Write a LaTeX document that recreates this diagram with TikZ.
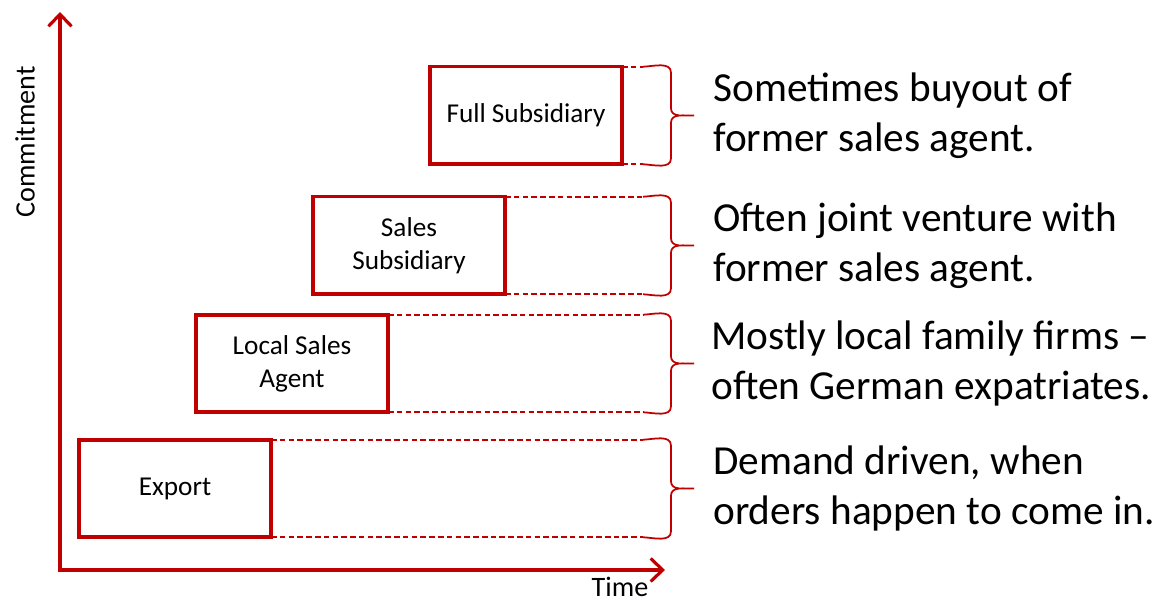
\documentclass[tikz,border=0pt]{standalone}
\usepackage{fontspec}
\setmainfont{Carlito}
\usetikzlibrary{positioning,arrows.meta}
\definecolor{darkred}{RGB}{192,0,0}

\begin{document}
\begin{tikzpicture}[stage/.style = {draw=darkred, line width=2pt, fill=white, outer sep=0pt,
                        minimum width=3.84cm, minimum height=1.95cm, align=center,
                        font=\fontsize{15.5}{18.8}\selectfont},
                    axis/.style = {draw=darkred, line width=1.8pt, {Straight Barb[length=2.4mm,width=4.6mm]}-{Straight Barb[length=2.4mm,width=4.6mm]}},
                    span/.style = {draw=darkred, line width=0.9pt, dash pattern=on 3.2pt off 1.8pt},
                    curly/.style = {draw=darkred, line width=1pt}]
    \useasboundingbox (0,0) rectangle (23.2,12.04);
    % axes
    \coordinate (ytop) at (1.2,11.8);
    \coordinate (xend) at (13.3,0.64);
    \coordinate (brx) at (13.42,0);
    \draw[axis] (ytop) |- (xend);
    \node[rotate=90, font=\fontsize{16}{19}\selectfont] (commit) at (0.5,9.2) {Commitment};
    \node[anchor=base, font=\fontsize{16}{19}\selectfont] (time) at (12.4,0.1) {Time};
    % stages
    \node[stage] (export) at (3.5,2.27) {Export};
    \node[stage, above right=0.55cm and -1.5cm of export] (local) {Local Sales\\Agent};
    \node[stage, above right=0.41cm and -1.5cm of local] (sales) {Sales\\Subsidiary};
    \node[stage, above right=0.65cm and -1.5cm of sales] (full) {Full Subsidiary};
    % dashed spans and braces
    \foreach \s in {export, local, sales, full} {
        \draw[span] (\s.north east) -- ([xshift=-0.56cm]\s.north -| brx);
        \draw[span] (\s.south east) -- ([xshift=-0.56cm]\s.south -| brx);
        \draw[curly] ([xshift=-0.56cm]\s.north -| brx) to[out=3,in=90] ([yshift=-0.12cm]\s.north -| brx)
            -- ([yshift=0.14cm]\s.east -| brx) to[out=-90,in=178] ([xshift=0.46cm]\s.east -| brx)
            to[out=182,in=90] ([yshift=-0.14cm]\s.east -| brx)
            -- ([yshift=0.12cm]\s.south -| brx) to[out=-90,in=-3] ([xshift=-0.56cm]\s.south -| brx);
    }
    % notes
    \tikzset{note/.style = {anchor=west, align=left, inner sep=0pt, font=\fontsize{23.5}{28.45}\selectfont}}
    \node[note] (exportnote) at ([xshift=0.84cm]export -| brx) {Demand driven, when\\orders happen to come in.};
    \node[note] (localnote) at ([xshift=0.8cm]local -| brx) {Mostly local family firms --\\often German expatriates.};
    \node[note] (salesnote) at ([xshift=0.84cm]sales -| brx) {Often joint venture with\\former sales agent.};
    \node[note] (fullnote) at ([xshift=0.84cm]full -| brx) {Sometimes buyout of\\former sales agent.};
\end{tikzpicture}
\end{document}
